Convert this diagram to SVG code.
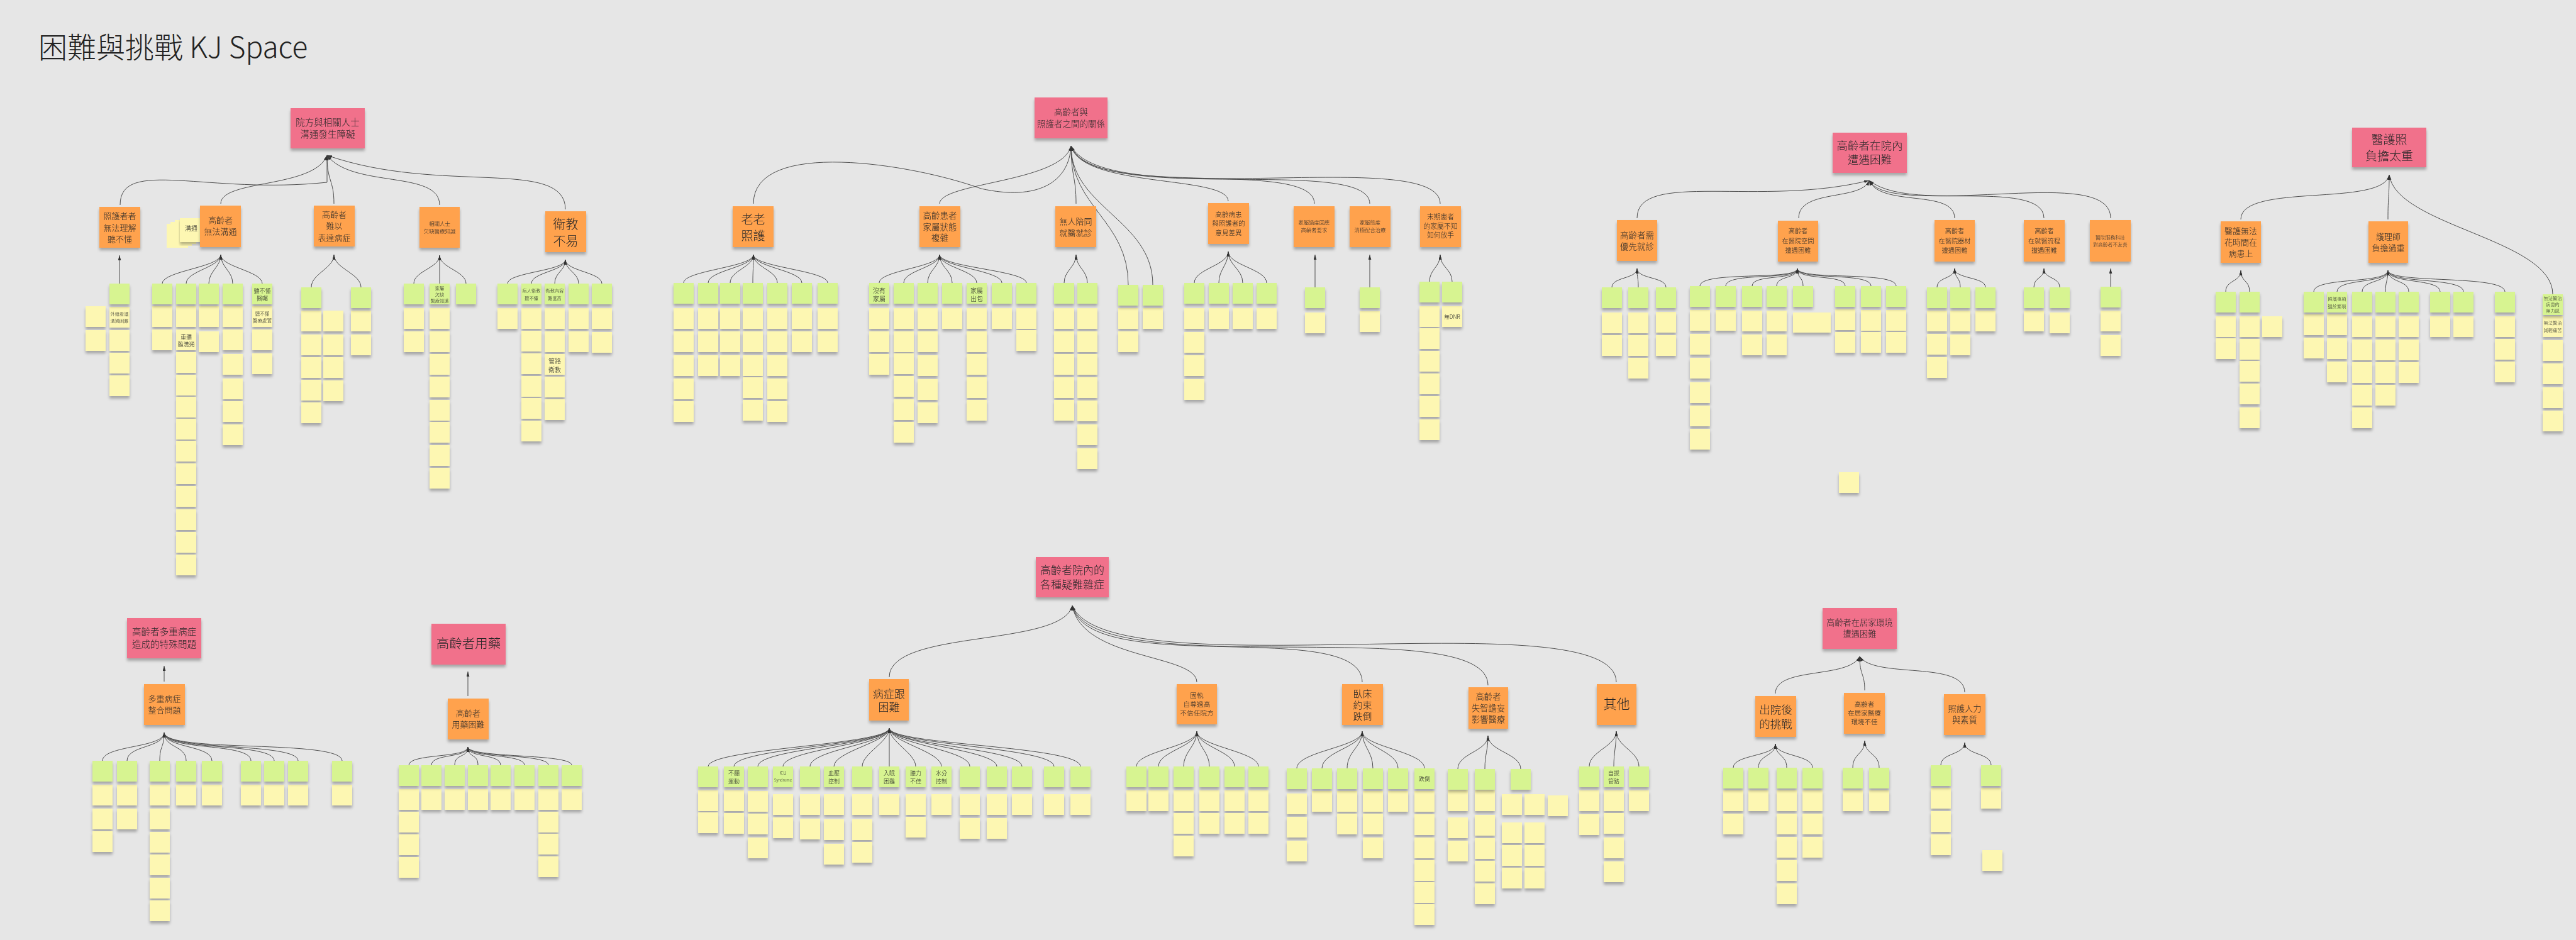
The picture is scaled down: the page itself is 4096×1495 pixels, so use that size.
<svg xmlns="http://www.w3.org/2000/svg" xmlns:xlink="http://www.w3.org/1999/xlink" width="4096" height="1495" viewBox="0 0 4096 1495">
<defs>
<style>
.bg{fill:#e6e6e6}
.pk{fill:#f1718b}
.or{fill:#ffa24e}
.gr{fill:#d7f491}
.yl{fill:#fdf7b2}
text{font-family:"Noto Sans CJK TC","Noto Sans CJK SC",sans-serif;font-weight:300;fill:#272727;text-anchor:middle;dominant-baseline:central}
.title{text-anchor:start;dominant-baseline:alphabetic;font-size:46px;fill:#222}
#connectors path{fill:none;stroke:#4d4d4d;stroke-width:1;marker-end:url(#ah)}
.sh{filter:url(#sh)}
</style>
<filter id="sh" x="-5%" y="-5%" width="110%" height="120%"><feDropShadow dx="0" dy="4" stdDeviation="2.2" flood-color="#000" flood-opacity="0.28"/></filter>
<marker id="ah" viewBox="0 0 10 6" refX="10" refY="3" markerWidth="8" markerHeight="5" orient="auto"><path d="M0,0L10,3L0,6z" fill="#333"/></marker>
<rect id="n" width="32" height="33"/>
</defs>
<rect class="bg" width="4096" height="1495"/>
<text class="title" x="61" y="92">困難與挑戰 KJ Space</text>

<g id="connectors">
<path d="M191,326C191,250 330,310 520,290C520,270 520,260 520,247"/>
<path d="M351,324C351,285 500,300 520,247"/>
<path d="M531,324C531,285 520,290 520,247"/>
<path d="M699,326C699,270 560,300 520,247"/>
<path d="M899,333C899,250 700,310 520,247"/>
<path d="M190,451V406"/>
<path d="M258,451C258,431 351,425 351,405"/>
<path d="M296,451C296,431 351,425 351,405"/>
<path d="M332,451C332,431 351,425 351,405"/>
<path d="M370,451C370,431 351,425 351,405"/>
<path d="M417,451C417,431 351,425 351,405"/>
<path d="M495,457C495,435 531,427 531,405"/>
<path d="M574,457C574,435 531,427 531,405"/>
<path d="M658,451C658,431 699,426 699,406"/>
<path d="M699,451V406"/>
<path d="M741,451C741,431 699,426 699,406"/>
<path d="M807,451C807,433 899,431 899,413"/>
<path d="M845,451C845,433 899,431 899,413"/>
<path d="M882,451C882,433 899,431 899,413"/>
<path d="M920,451C920,433 899,431 899,413"/>
<path d="M957,451C957,433 899,431 899,413"/>

<path d="M1198,324C1198,220 1450,260 1560,300C1650,320 1700,290 1703,232"/>
<path d="M1494,324C1494,290 1690,290 1703,232"/>
<path d="M1711,324C1711,280 1703,280 1703,232"/>
<path d="M1953,320C1953,278 1720,300 1703,232"/>
<path d="M2090,324C2090,250 1730,320 1703,232"/>
<path d="M2178,324C2178,245 1740,330 1703,232"/>
<path d="M2290,324C2290,230 1760,340 1703,232"/>
<path d="M1794,453C1794,350 1703,330 1703,232"/>
<path d="M1833,453C1833,350 1703,330 1703,232"/>
<path d="M1087,450C1087,430 1198,425 1198,405"/>
<path d="M1126,450C1126,430 1198,425 1198,405"/>
<path d="M1161,450C1161,430 1198,425 1198,405"/>
<path d="M1197,450C1197,430 1198,425 1198,405"/>
<path d="M1236,450C1236,430 1198,425 1198,405"/>
<path d="M1275,450C1275,430 1198,425 1198,405"/>
<path d="M1316,450C1316,430 1198,425 1198,405"/>
<path d="M1398,450C1398,430 1494,425 1494,405"/>
<path d="M1437,450C1437,430 1494,425 1494,405"/>
<path d="M1475,450C1475,430 1494,425 1494,405"/>
<path d="M1514,450C1514,430 1494,425 1494,405"/>
<path d="M1553,450C1553,430 1494,425 1494,405"/>
<path d="M1593,450C1593,430 1494,425 1494,405"/>
<path d="M1632,450C1632,430 1494,425 1494,405"/>
<path d="M1692,450C1692,430 1711,425 1711,405"/>
<path d="M1729,450C1729,430 1711,425 1711,405"/>
<path d="M1899,450C1899,428 1953,422 1953,400"/>
<path d="M1938,450C1938,428 1953,422 1953,400"/>
<path d="M1976,450C1976,428 1953,422 1953,400"/>
<path d="M2014,450C2014,428 1953,422 1953,400"/>
<path d="M2091,457V405"/>
<path d="M2178,457V405"/>
<path d="M2273,448C2273,428 2290,425 2290,405"/>
<path d="M2309,448C2309,428 2290,425 2290,405"/>

<path d="M2603,347C2603,270 2800,330 2972,287"/>
<path d="M2860,347C2860,300 2960,320 2972,287"/>
<path d="M3108,347C3108,300 2990,330 2972,287"/>
<path d="M3250,347C3250,280 3000,340 2972,287"/>
<path d="M3356,347C3356,260 3050,350 2972,287"/>
<path d="M2563,457C2563,440 2603,444 2603,427"/>
<path d="M2605,457C2605,440 2603,444 2603,427"/>
<path d="M2649,457C2649,440 2603,444 2603,427"/>
<path d="M2703,455C2703,430 2858,447 2858,427"/>
<path d="M2744,455C2744,432 2858,447 2858,427"/>
<path d="M2786,455C2786,435 2858,447 2858,427"/>
<path d="M2825,455C2825,438 2858,444 2858,427"/>
<path d="M2867,455C2867,440 2858,444 2858,427"/>
<path d="M2934,455C2934,435 2858,447 2858,427"/>
<path d="M2975,455C2975,432 2858,447 2858,427"/>
<path d="M3015,455C3015,430 2858,447 2858,427"/>
<path d="M3080,457C3080,440 3108,444 3108,427"/>
<path d="M3117,457C3117,440 3108,444 3108,427"/>
<path d="M3157,457C3157,440 3108,444 3108,427"/>
<path d="M3234,457C3234,440 3250,444 3250,427"/>
<path d="M3275,457C3275,440 3250,444 3250,427"/>
<path d="M3356,456V427"/>

<path d="M3563,349C3563,290 3790,330 3799,278"/>
<path d="M3797,349C3797,310 3799,315 3799,278"/>
<path d="M4059,468C4059,380 3810,360 3799,278"/>
<path d="M3539,464C3539,445 3563,449 3563,430"/>
<path d="M3577,464C3577,445 3563,449 3563,430"/>
<path d="M3679,464C3679,440 3797,452 3797,430"/>
<path d="M3716,464C3716,442 3797,452 3797,430"/>
<path d="M3756,464C3756,445 3797,450 3797,430"/>
<path d="M3793,464C3793,447 3797,447 3797,430"/>
<path d="M3830,464C3830,445 3797,450 3797,430"/>
<path d="M3880,464C3880,442 3797,452 3797,430"/>
<path d="M3917,464C3917,440 3797,452 3797,430"/>
<path d="M3983,464C3983,436 3797,452 3797,430"/>

<path d="M261,1084V1059"/>
<path d="M163,1210C163,1185 261,1190 261,1165"/>
<path d="M202,1210C202,1185 261,1190 261,1165"/>
<path d="M254,1210C254,1185 261,1190 261,1165"/>
<path d="M296,1210C296,1185 261,1190 261,1165"/>
<path d="M337,1210C337,1185 261,1190 261,1165"/>
<path d="M399,1210C399,1180 261,1195 261,1165"/>
<path d="M436,1210C436,1180 261,1195 261,1165"/>
<path d="M474,1210C474,1180 261,1195 261,1165"/>
<path d="M544,1210C544,1175 261,1198 261,1165"/>
<path d="M744,1107V1068"/>
<path d="M650,1217C650,1198 744,1206 744,1188"/>
<path d="M686,1217C686,1198 744,1206 744,1188"/>
<path d="M723,1217C723,1198 744,1206 744,1188"/>
<path d="M760,1217C760,1198 744,1206 744,1188"/>
<path d="M796,1217C796,1198 744,1206 744,1188"/>
<path d="M834,1217C834,1198 744,1206 744,1188"/>
<path d="M872,1217C872,1198 744,1206 744,1188"/>
<path d="M909,1217C909,1198 744,1206 744,1188"/>

<path d="M1414,1077C1414,1000 1690,1030 1705,963"/>
<path d="M1903,1085C1903,1040 1720,1050 1705,963"/>
<path d="M2166,1085C2166,980 1730,1080 1705,963"/>
<path d="M2366,1090C2366,970 1740,1090 1705,963"/>
<path d="M2570,1085C2570,950 1760,1100 1705,963"/>
<path d="M1126,1219C1126,1190 1414,1185 1414,1158"/>
<path d="M1167,1219C1167,1190 1414,1185 1414,1158"/>
<path d="M1205,1219C1205,1190 1414,1185 1414,1158"/>
<path d="M1245,1219C1245,1192 1414,1183 1414,1158"/>
<path d="M1288,1219C1288,1192 1414,1183 1414,1158"/>
<path d="M1326,1219C1326,1195 1414,1180 1414,1158"/>
<path d="M1371,1219C1371,1198 1414,1180 1414,1158"/>
<path d="M1414,1219V1158"/>
<path d="M1456,1219C1456,1198 1414,1180 1414,1158"/>
<path d="M1497,1219C1497,1195 1414,1180 1414,1158"/>
<path d="M1542,1219C1542,1192 1414,1183 1414,1158"/>
<path d="M1585,1219C1585,1192 1414,1183 1414,1158"/>
<path d="M1625,1219C1625,1190 1414,1185 1414,1158"/>
<path d="M1676,1219C1676,1188 1414,1185 1414,1158"/>
<path d="M1718,1219C1718,1186 1414,1185 1414,1158"/>
<path d="M1807,1219C1807,1195 1903,1187 1903,1163"/>
<path d="M1842,1219C1842,1195 1903,1187 1903,1163"/>
<path d="M1882,1219C1882,1195 1903,1187 1903,1163"/>
<path d="M1923,1219C1923,1195 1903,1187 1903,1163"/>
<path d="M1963,1219C1963,1195 1903,1187 1903,1163"/>
<path d="M2001,1219C2001,1195 1903,1187 1903,1163"/>
<path d="M2062,1222C2062,1195 2166,1188 2166,1163"/>
<path d="M2102,1222C2102,1195 2166,1188 2166,1163"/>
<path d="M2142,1222C2142,1195 2166,1188 2166,1163"/>
<path d="M2183,1222C2183,1195 2166,1188 2166,1163"/>
<path d="M2223,1222C2223,1195 2166,1188 2166,1163"/>
<path d="M2265,1222C2265,1195 2166,1188 2166,1163"/>
<path d="M2318,1223C2318,1198 2366,1195 2366,1170"/>
<path d="M2361,1223C2361,1198 2366,1195 2366,1170"/>
<path d="M2418,1223C2418,1198 2366,1195 2366,1170"/>
<path d="M2527,1219C2527,1195 2570,1187 2570,1163"/>
<path d="M2566,1219C2566,1195 2570,1187 2570,1163"/>
<path d="M2606,1219C2606,1195 2570,1187 2570,1163"/>

<path d="M2823,1103C2823,1060 2940,1080 2957,1044"/>
<path d="M2965,1098C2965,1070 2957,1075 2957,1044"/>
<path d="M3124,1101C3124,1050 2980,1080 2957,1044"/>
<path d="M2756,1221C2756,1200 2823,1203 2823,1183"/>
<path d="M2796,1221C2796,1200 2823,1203 2823,1183"/>
<path d="M2841,1221C2841,1200 2823,1203 2823,1183"/>
<path d="M2882,1221C2882,1200 2823,1203 2823,1183"/>
<path d="M2946,1221C2946,1198 2965,1200 2965,1178"/>
<path d="M2988,1221C2988,1198 2965,1200 2965,1178"/>
<path d="M3086,1217C3086,1197 3124,1201 3124,1181"/>
<path d="M3166,1217C3166,1197 3124,1201 3124,1181"/>
</g>

<g id="yellow-notes" class="yl sh">
<use href="#n" x="136" y="487"/><use href="#n" x="136" y="525"/>
<use href="#n" x="174" y="488"/><use href="#n" x="174" y="525"/><use href="#n" x="174" y="561"/><use href="#n" x="174" y="597"/>
<use href="#n" x="242" y="487"/><use href="#n" x="242" y="524"/>
<use href="#n" x="280" y="487"/><use href="#n" x="280" y="524"/><use href="#n" x="280" y="560"/><use href="#n" x="280" y="596"/><use href="#n" x="280" y="631"/><use href="#n" x="280" y="666"/><use href="#n" x="280" y="701"/><use href="#n" x="280" y="737"/><use href="#n" x="280" y="773"/><use href="#n" x="280" y="810"/><use href="#n" x="280" y="846"/><use href="#n" x="280" y="882"/>
<use href="#n" x="316" y="487"/><use href="#n" x="316" y="527"/>
<use href="#n" x="354" y="487"/><use href="#n" x="354" y="524"/><use href="#n" x="354" y="563"/><use href="#n" x="354" y="602"/><use href="#n" x="354" y="638"/><use href="#n" x="354" y="675"/>
<use href="#n" x="401" y="487"/><use href="#n" x="401" y="524"/><use href="#n" x="401" y="562"/>
<use href="#n" x="479" y="494"/><use href="#n" x="479" y="532"/><use href="#n" x="479" y="568"/><use href="#n" x="479" y="604"/><use href="#n" x="479" y="640"/>
<use href="#n" x="514" y="494"/><use href="#n" x="514" y="532"/><use href="#n" x="514" y="568"/><use href="#n" x="514" y="605"/>
<use href="#n" x="558" y="494"/><use href="#n" x="558" y="532"/>
<use href="#n" x="642" y="490"/><use href="#n" x="642" y="527"/>
<use href="#n" x="683" y="490"/><use href="#n" x="683" y="527"/><use href="#n" x="683" y="563"/><use href="#n" x="683" y="599"/><use href="#n" x="683" y="636"/><use href="#n" x="683" y="671"/><use href="#n" x="683" y="708"/><use href="#n" x="683" y="744"/>
<use href="#n" x="791" y="490"/>
<use href="#n" x="829" y="490"/><use href="#n" x="829" y="526"/><use href="#n" x="829" y="562"/><use href="#n" x="829" y="598"/><use href="#n" x="829" y="633"/><use href="#n" x="829" y="669"/>
<use href="#n" x="866" y="490"/><use href="#n" x="866" y="527"/><use href="#n" x="866" y="563"/><use href="#n" x="866" y="599"/><use href="#n" x="866" y="635"/>
<use href="#n" x="904" y="490"/><use href="#n" x="904" y="527"/>
<use href="#n" x="941" y="490"/><use href="#n" x="941" y="528"/>

<use href="#n" x="1071" y="490"/><use href="#n" x="1071" y="527"/><use href="#n" x="1071" y="565"/><use href="#n" x="1071" y="602"/><use href="#n" x="1071" y="638"/>
<use href="#n" x="1110" y="490"/><use href="#n" x="1110" y="527"/><use href="#n" x="1110" y="565"/>
<use href="#n" x="1145" y="490"/><use href="#n" x="1145" y="527"/><use href="#n" x="1145" y="565"/>
<use href="#n" x="1181" y="490"/><use href="#n" x="1181" y="527"/><use href="#n" x="1181" y="565"/><use href="#n" x="1181" y="600"/><use href="#n" x="1181" y="636"/>
<use href="#n" x="1220" y="490"/><use href="#n" x="1220" y="527"/><use href="#n" x="1220" y="565"/><use href="#n" x="1220" y="602"/><use href="#n" x="1220" y="638"/>
<use href="#n" x="1259" y="490"/><use href="#n" x="1259" y="527"/>
<use href="#n" x="1300" y="490"/><use href="#n" x="1300" y="527"/>
<use href="#n" x="1382" y="490"/><use href="#n" x="1382" y="527"/><use href="#n" x="1382" y="563"/>
<use href="#n" x="1421" y="490"/><use href="#n" x="1421" y="527"/><use href="#n" x="1421" y="562"/><use href="#n" x="1421" y="598"/><use href="#n" x="1421" y="635"/><use href="#n" x="1421" y="671"/>
<use href="#n" x="1459" y="490"/><use href="#n" x="1459" y="527"/><use href="#n" x="1459" y="565"/><use href="#n" x="1459" y="603"/><use href="#n" x="1459" y="640"/>
<use href="#n" x="1498" y="490"/>
<use href="#n" x="1537" y="490"/><use href="#n" x="1537" y="527"/><use href="#n" x="1537" y="563"/><use href="#n" x="1537" y="600"/><use href="#n" x="1537" y="636"/>
<use href="#n" x="1577" y="490"/>
<use href="#n" x="1616" y="490"/><use href="#n" x="1616" y="525"/>
<use href="#n" x="1676" y="490"/><use href="#n" x="1676" y="527"/><use href="#n" x="1676" y="563"/><use href="#n" x="1676" y="600"/><use href="#n" x="1676" y="636"/>
<use href="#n" x="1713" y="490"/><use href="#n" x="1713" y="527"/><use href="#n" x="1713" y="563"/><use href="#n" x="1713" y="600"/><use href="#n" x="1713" y="637"/><use href="#n" x="1713" y="675"/><use href="#n" x="1713" y="713"/>
<use href="#n" x="1778" y="490"/><use href="#n" x="1778" y="527"/>
<use href="#n" x="1817" y="490"/>
<use href="#n" x="1883" y="490"/><use href="#n" x="1883" y="528"/><use href="#n" x="1883" y="565"/><use href="#n" x="1883" y="603"/>
<use href="#n" x="1922" y="490"/><use href="#n" x="1960" y="490"/><use href="#n" x="1998" y="490"/>
<use href="#n" x="2075" y="497"/><use href="#n" x="2162" y="495"/>
<use href="#n" x="2257" y="487"/><use href="#n" x="2257" y="522"/><use href="#n" x="2257" y="558"/><use href="#n" x="2257" y="594"/><use href="#n" x="2257" y="630"/><use href="#n" x="2257" y="667"/>
<use href="#n" x="2293" y="487"/>

<use href="#n" x="2547" y="497"/><use href="#n" x="2547" y="533"/>
<use href="#n" x="2589" y="497"/><use href="#n" x="2589" y="533"/><use href="#n" x="2589" y="569"/>
<use href="#n" x="2633" y="496"/><use href="#n" x="2633" y="533"/>
<use href="#n" x="2687" y="493"/><use href="#n" x="2687" y="531"/><use href="#n" x="2687" y="569"/><use href="#n" x="2687" y="608"/><use href="#n" x="2687" y="645"/><use href="#n" x="2687" y="682"/>
<use href="#n" x="2728" y="493"/>
<use href="#n" x="2770" y="494"/><use href="#n" x="2770" y="532"/>
<use href="#n" x="2809" y="494"/><use href="#n" x="2809" y="532"/>
<rect x="2851" y="497" width="60" height="32"/>
<use href="#n" x="2918" y="492"/><use href="#n" x="2918" y="528"/>
<use href="#n" x="2959" y="493"/><use href="#n" x="2959" y="528"/>
<use href="#n" x="2999" y="493"/><use href="#n" x="2999" y="528"/>
<use href="#n" x="3064" y="494"/><use href="#n" x="3064" y="531"/><use href="#n" x="3064" y="568"/>
<use href="#n" x="3101" y="494"/><use href="#n" x="3101" y="532"/>
<use href="#n" x="3141" y="494"/>
<use href="#n" x="3218" y="494"/><use href="#n" x="3259" y="497"/>
<use href="#n" x="3340" y="494"/><use href="#n" x="3340" y="533"/>
<use href="#n" x="2924" y="751"/>

<use href="#n" x="3523" y="503"/><use href="#n" x="3523" y="538"/>
<use href="#n" x="3561" y="503"/><use href="#n" x="3561" y="539"/><use href="#n" x="3561" y="574"/><use href="#n" x="3561" y="610"/><use href="#n" x="3561" y="648"/>
<use href="#n" x="3597" y="503"/>
<use href="#n" x="3663" y="500"/><use href="#n" x="3663" y="537"/>
<use href="#n" x="3700" y="500"/><use href="#n" x="3700" y="538"/><use href="#n" x="3700" y="575"/>
<use href="#n" x="3740" y="503"/><use href="#n" x="3740" y="540"/><use href="#n" x="3740" y="576"/><use href="#n" x="3740" y="612"/><use href="#n" x="3740" y="648"/>
<use href="#n" x="3777" y="503"/><use href="#n" x="3777" y="540"/><use href="#n" x="3777" y="576"/><use href="#n" x="3777" y="612"/>
<use href="#n" x="3814" y="503"/><use href="#n" x="3814" y="540"/><use href="#n" x="3814" y="576"/>
<use href="#n" x="3864" y="503"/><use href="#n" x="3901" y="503"/>
<use href="#n" x="3967" y="503"/><use href="#n" x="3967" y="539"/><use href="#n" x="3967" y="575"/>
<use href="#n" x="4043" y="503"/><use href="#n" x="4043" y="541"/><use href="#n" x="4043" y="578"/><use href="#n" x="4043" y="616"/><use href="#n" x="4043" y="653"/>

<use href="#n" x="147" y="1248"/><use href="#n" x="147" y="1286"/><use href="#n" x="147" y="1322"/>
<use href="#n" x="186" y="1248"/><use href="#n" x="186" y="1286"/>
<use href="#n" x="238" y="1248"/><use href="#n" x="238" y="1286"/><use href="#n" x="238" y="1323"/><use href="#n" x="238" y="1359"/><use href="#n" x="238" y="1396"/><use href="#n" x="238" y="1432"/>
<use href="#n" x="280" y="1248"/><use href="#n" x="321" y="1248"/><use href="#n" x="383" y="1248"/><use href="#n" x="420" y="1248"/><use href="#n" x="458" y="1248"/><use href="#n" x="528" y="1248"/>
<use href="#n" x="634" y="1255"/><use href="#n" x="634" y="1291"/><use href="#n" x="634" y="1327"/><use href="#n" x="634" y="1363"/>
<use href="#n" x="670" y="1255"/><use href="#n" x="707" y="1255"/><use href="#n" x="744" y="1255"/><use href="#n" x="780" y="1255"/><use href="#n" x="818" y="1255"/>
<use href="#n" x="856" y="1255"/><use href="#n" x="856" y="1291"/><use href="#n" x="856" y="1326"/><use href="#n" x="856" y="1362"/>
<use href="#n" x="893" y="1255"/>

<use href="#n" x="1110" y="1257"/><use href="#n" x="1110" y="1292"/>
<use href="#n" x="1151" y="1257"/><use href="#n" x="1151" y="1293"/>
<use href="#n" x="1189" y="1258"/><use href="#n" x="1189" y="1294"/><use href="#n" x="1189" y="1332"/>
<use href="#n" x="1229" y="1263"/><use href="#n" x="1229" y="1300"/>
<use href="#n" x="1272" y="1263"/><use href="#n" x="1272" y="1302"/>
<use href="#n" x="1310" y="1263"/><use href="#n" x="1310" y="1303"/><use href="#n" x="1310" y="1342"/>
<use href="#n" x="1355" y="1263"/><use href="#n" x="1355" y="1303"/><use href="#n" x="1355" y="1339"/>
<use href="#n" x="1398" y="1263"/>
<use href="#n" x="1440" y="1263"/><use href="#n" x="1440" y="1299"/>
<use href="#n" x="1481" y="1263"/>
<use href="#n" x="1526" y="1263"/><use href="#n" x="1526" y="1301"/>
<use href="#n" x="1569" y="1263"/><use href="#n" x="1569" y="1301"/>
<use href="#n" x="1609" y="1263"/><use href="#n" x="1660" y="1263"/><use href="#n" x="1702" y="1263"/>
<use href="#n" x="1791" y="1257"/><use href="#n" x="1826" y="1257"/>
<use href="#n" x="1866" y="1257"/><use href="#n" x="1866" y="1293"/><use href="#n" x="1866" y="1329"/>
<use href="#n" x="1907" y="1257"/><use href="#n" x="1907" y="1293"/>
<use href="#n" x="1947" y="1257"/><use href="#n" x="1947" y="1293"/>
<use href="#n" x="1985" y="1257"/><use href="#n" x="1985" y="1293"/>
<use href="#n" x="2046" y="1262"/><use href="#n" x="2046" y="1299"/><use href="#n" x="2046" y="1337"/>
<use href="#n" x="2086" y="1258"/>
<use href="#n" x="2126" y="1258"/><use href="#n" x="2126" y="1294"/>
<use href="#n" x="2167" y="1258"/><use href="#n" x="2167" y="1294"/><use href="#n" x="2167" y="1332"/>
<use href="#n" x="2207" y="1258"/>
<use href="#n" x="2249" y="1258"/><use href="#n" x="2249" y="1295"/><use href="#n" x="2249" y="1332"/><use href="#n" x="2249" y="1368"/><use href="#n" x="2249" y="1403"/><use href="#n" x="2249" y="1438"/>
<use href="#n" x="2302" y="1257"/><use href="#n" x="2302" y="1300"/><use href="#n" x="2302" y="1337"/>
<use href="#n" x="2345" y="1257"/><use href="#n" x="2345" y="1296"/><use href="#n" x="2345" y="1333"/><use href="#n" x="2345" y="1369"/><use href="#n" x="2345" y="1405"/>
<use href="#n" x="2388" y="1263"/><use href="#n" x="2388" y="1308"/><use href="#n" x="2388" y="1344"/><use href="#n" x="2388" y="1380"/>
<use href="#n" x="2424" y="1263"/><use href="#n" x="2424" y="1308"/><use href="#n" x="2424" y="1344"/><use href="#n" x="2424" y="1380"/>
<use href="#n" x="2461" y="1265"/>
<use href="#n" x="2511" y="1257"/><use href="#n" x="2511" y="1295"/>
<use href="#n" x="2550" y="1257"/><use href="#n" x="2550" y="1293"/><use href="#n" x="2550" y="1332"/><use href="#n" x="2550" y="1370"/>
<use href="#n" x="2590" y="1257"/>

<use href="#n" x="2740" y="1257"/><use href="#n" x="2740" y="1294"/>
<use href="#n" x="2780" y="1257"/>
<use href="#n" x="2825" y="1257"/><use href="#n" x="2825" y="1294"/><use href="#n" x="2825" y="1331"/><use href="#n" x="2825" y="1368"/><use href="#n" x="2825" y="1405"/>
<use href="#n" x="2866" y="1257"/><use href="#n" x="2866" y="1294"/><use href="#n" x="2866" y="1331"/>
<use href="#n" x="2930" y="1257"/><use href="#n" x="2972" y="1257"/>
<use href="#n" x="3070" y="1253"/><use href="#n" x="3070" y="1290"/><use href="#n" x="3070" y="1327"/>
<use href="#n" x="3150" y="1253"/>
<use href="#n" x="3152" y="1352"/>
</g>

<g id="green-notes" class="gr sh">
<use id="g1" href="#n" x="174" y="451"/>
<use id="g2" href="#n" x="242" y="451"/><use id="g3" href="#n" x="280" y="451"/><use id="g4" href="#n" x="316" y="451"/><use id="g5" href="#n" x="354" y="451"/><use id="g6" href="#n" x="401" y="451"/>
<use id="g7" href="#n" x="479" y="457"/><use id="g8" href="#n" x="558" y="457"/>
<use id="g9" href="#n" x="642" y="451"/><use id="g10" href="#n" x="683" y="451"/><use id="g11" href="#n" x="725" y="451"/>
<use id="g12" href="#n" x="791" y="451"/><use id="g13" href="#n" x="829" y="451"/><use id="g14" href="#n" x="866" y="451"/><use id="g15" href="#n" x="904" y="451"/><use id="g16" href="#n" x="941" y="451"/>
<use id="g17" href="#n" x="1071" y="450"/><use id="g18" href="#n" x="1110" y="450"/><use id="g19" href="#n" x="1145" y="450"/><use id="g20" href="#n" x="1181" y="450"/><use id="g21" href="#n" x="1220" y="450"/><use id="g22" href="#n" x="1259" y="450"/><use id="g23" href="#n" x="1300" y="450"/>
<use id="g24" href="#n" x="1382" y="450"/><use id="g25" href="#n" x="1421" y="450"/><use id="g26" href="#n" x="1459" y="450"/><use id="g27" href="#n" x="1498" y="450"/><use id="g28" href="#n" x="1537" y="450"/><use id="g29" href="#n" x="1577" y="450"/><use id="g30" href="#n" x="1616" y="450"/>
<use id="g31" href="#n" x="1676" y="450"/><use id="g32" href="#n" x="1713" y="450"/>
<use id="g33" href="#n" x="1778" y="453"/><use id="g34" href="#n" x="1817" y="453"/>
<use id="g35" href="#n" x="1883" y="450"/><use id="g36" href="#n" x="1922" y="450"/><use id="g37" href="#n" x="1960" y="450"/><use id="g38" href="#n" x="1998" y="450"/>
<use id="g39" href="#n" x="2075" y="457"/><use id="g40" href="#n" x="2162" y="457"/>
<use id="g41" href="#n" x="2257" y="448"/><use id="g42" href="#n" x="2293" y="448"/>
<use id="g43" href="#n" x="2547" y="457"/><use id="g44" href="#n" x="2589" y="457"/><use id="g45" href="#n" x="2633" y="457"/>
<use id="g46" href="#n" x="2687" y="455"/><use id="g47" href="#n" x="2728" y="455"/><use id="g48" href="#n" x="2770" y="455"/><use id="g49" href="#n" x="2809" y="455"/><use id="g50" href="#n" x="2851" y="455"/><use id="g51" href="#n" x="2918" y="455"/><use id="g52" href="#n" x="2959" y="455"/><use id="g53" href="#n" x="2999" y="455"/>
<use id="g54" href="#n" x="3064" y="457"/><use id="g55" href="#n" x="3101" y="457"/><use id="g56" href="#n" x="3141" y="457"/>
<use id="g57" href="#n" x="3218" y="457"/><use id="g58" href="#n" x="3259" y="457"/>
<use id="g59" href="#n" x="3340" y="456"/>
<use id="g60" href="#n" x="3523" y="464"/><use id="g61" href="#n" x="3561" y="464"/>
<use id="g62" href="#n" x="3663" y="464"/><use id="g63" href="#n" x="3700" y="464"/><use id="g64" href="#n" x="3740" y="464"/><use id="g65" href="#n" x="3777" y="464"/><use id="g66" href="#n" x="3814" y="464"/><use id="g67" href="#n" x="3864" y="464"/><use id="g68" href="#n" x="3901" y="464"/><use id="g69" href="#n" x="3967" y="464"/>
<use id="g70" href="#n" x="4043" y="468"/>
<use id="g71" href="#n" x="147" y="1210"/><use id="g72" href="#n" x="186" y="1210"/><use id="g73" href="#n" x="238" y="1210"/><use id="g74" href="#n" x="280" y="1210"/><use id="g75" href="#n" x="321" y="1210"/><use id="g76" href="#n" x="383" y="1210"/><use id="g77" href="#n" x="420" y="1210"/><use id="g78" href="#n" x="458" y="1210"/><use id="g79" href="#n" x="528" y="1210"/>
<use id="g80" href="#n" x="634" y="1217"/><use id="g81" href="#n" x="670" y="1217"/><use id="g82" href="#n" x="707" y="1217"/><use id="g83" href="#n" x="744" y="1217"/><use id="g84" href="#n" x="780" y="1217"/><use id="g85" href="#n" x="818" y="1217"/><use id="g86" href="#n" x="856" y="1217"/><use id="g87" href="#n" x="893" y="1217"/>
<use id="g88" href="#n" x="1110" y="1219"/><use id="g89" href="#n" x="1151" y="1219"/><use id="g90" href="#n" x="1189" y="1219"/><use id="g91" href="#n" x="1229" y="1219"/><use id="g92" href="#n" x="1272" y="1219"/><use id="g93" href="#n" x="1310" y="1219"/><use id="g94" href="#n" x="1355" y="1219"/><use id="g95" href="#n" x="1398" y="1219"/><use id="g96" href="#n" x="1440" y="1219"/><use id="g97" href="#n" x="1481" y="1219"/><use id="g98" href="#n" x="1526" y="1219"/><use id="g99" href="#n" x="1569" y="1219"/><use id="g100" href="#n" x="1609" y="1219"/><use id="g101" href="#n" x="1660" y="1219"/><use id="g102" href="#n" x="1702" y="1219"/>
<use id="g103" href="#n" x="1791" y="1219"/><use id="g104" href="#n" x="1826" y="1219"/><use id="g105" href="#n" x="1866" y="1219"/><use id="g106" href="#n" x="1907" y="1219"/><use id="g107" href="#n" x="1947" y="1219"/><use id="g108" href="#n" x="1985" y="1219"/>
<use id="g109" href="#n" x="2046" y="1222"/><use id="g110" href="#n" x="2086" y="1222"/><use id="g111" href="#n" x="2126" y="1222"/><use id="g112" href="#n" x="2167" y="1222"/><use id="g113" href="#n" x="2207" y="1222"/><use id="g114" href="#n" x="2249" y="1222"/>
<use id="g115" href="#n" x="2302" y="1223"/><use id="g116" href="#n" x="2345" y="1223"/><use id="g117" href="#n" x="2402" y="1223"/>
<use id="g118" href="#n" x="2511" y="1219"/><use id="g119" href="#n" x="2550" y="1219"/><use id="g120" href="#n" x="2590" y="1219"/>
<use id="g121" href="#n" x="2740" y="1221"/><use id="g122" href="#n" x="2780" y="1221"/><use id="g123" href="#n" x="2825" y="1221"/><use id="g124" href="#n" x="2866" y="1221"/>
<use id="g125" href="#n" x="2930" y="1221"/><use id="g126" href="#n" x="2972" y="1221"/>
<use id="g127" href="#n" x="3070" y="1217"/><use id="g128" href="#n" x="3150" y="1217"/>
</g>

<g id="note-texts">
<text x="417" y="462" font-size="9">聽不懂</text><text x="417" y="474" font-size="9">醫囑</text>
<text x="417" y="498" font-size="7.5">聽不懂</text><text x="417" y="509" font-size="7.5">醫療處置</text>
<text x="296" y="535" font-size="9">重聽</text><text x="296" y="547" font-size="9">難溝通</text>
<text x="190" y="499" font-size="7.2">外籍看護</text><text x="190" y="510" font-size="7.2">溝通困難</text>
<text x="882" y="573" font-size="10">管路</text><text x="882" y="587" font-size="10">衛教</text>
<text x="845" y="462" font-size="7.2">病人衛教</text><text x="845" y="474" font-size="7.2">聽不懂</text>
<text x="882" y="462" font-size="7.2">衛教內容</text><text x="882" y="474" font-size="7.2">難度高</text>
<text x="699" y="458" font-size="7.2">家屬</text><text x="699" y="468" font-size="7.2">欠缺</text><text x="699" y="478" font-size="7.2">醫療知識</text>
<text x="1398" y="461" font-size="10">沒有</text><text x="1398" y="474" font-size="10">家屬</text>
<text x="1553" y="461" font-size="10">家屬</text><text x="1553" y="474" font-size="10">出包</text>
<text x="2309" y="503" font-size="8.5">無DNR</text>
<text x="3716" y="475" font-size="7.2">照護事項</text><text x="3716" y="487" font-size="7.2">過於繁瑣</text>
<text x="4059" y="474" font-size="7.2">無法醫治</text><text x="4059" y="484" font-size="7.2">病患的</text><text x="4059" y="494" font-size="7.2">無力感</text>
<text x="4059" y="513" font-size="7.2">無法醫治</text><text x="4059" y="525" font-size="7.2">減輕痛苦</text>
<text x="1167" y="1229" font-size="9">不願</text><text x="1167" y="1242" font-size="9">運動</text>
<text x="1245" y="1229" font-size="7">ICU</text><text x="1245" y="1240" font-size="6">Syndrome</text>
<text x="1326" y="1229" font-size="9">血壓</text><text x="1326" y="1242" font-size="9">控制</text>
<text x="1414" y="1229" font-size="9">入眠</text><text x="1414" y="1242" font-size="9">困難</text>
<text x="1456" y="1229" font-size="9">聽力</text><text x="1456" y="1242" font-size="9">不佳</text>
<text x="1497" y="1229" font-size="9">水分</text><text x="1497" y="1242" font-size="9">控制</text>
<text x="2265" y="1238" font-size="9">跌倒</text>
<text x="2566" y="1229" font-size="9">自拔</text><text x="2566" y="1242" font-size="9">管路</text>
</g>

<g id="stack-communication" class="yl">
<rect x="265" y="356" width="34" height="38"/>
<rect x="271" y="353" width="34" height="38"/>
<rect x="278" y="350" width="34" height="38"/>
<rect x="286" y="347" width="34" height="38" class="sh"/>
<text x="304" y="362" font-size="10">溝通</text>
</g>

<g id="p1" class="sh"><rect class="pk" x="462" y="172" width="118" height="64"/><text x="521" y="193" font-size="14.5">院方與相關人士</text><text x="521" y="212" font-size="14.5">溝通發生障礙</text></g>
<g id="o1" class="sh"><rect class="or" x="158" y="329" width="65" height="65"/><text x="190.5" y="342" font-size="13">照護者者</text><text x="190.5" y="361" font-size="13">無法理解</text><text x="190.5" y="379" font-size="13">聽不懂</text></g>
<g id="o2" class="sh"><rect class="or" x="318" y="327" width="65" height="66"/><text x="350.5" y="349" font-size="13">高齡者</text><text x="350.5" y="367" font-size="13">無法溝通</text></g>
<g id="o3" class="sh"><rect class="or" x="499" y="327" width="65" height="65"/><text x="531.5" y="340" font-size="13">高齡者</text><text x="531.5" y="358" font-size="13">難以</text><text x="531.5" y="377" font-size="13">表達病症</text></g>
<g id="o4" class="sh"><rect class="or" x="667" y="329" width="64" height="65"/><text x="699" y="355" font-size="8.5">相關人士</text><text x="699" y="367" font-size="8.5">欠缺醫療知識</text></g>
<g id="o5" class="sh"><rect class="or" x="867" y="336" width="65" height="65"/><text x="899.5" y="355" font-size="20">衛教</text><text x="899.5" y="382" font-size="20">不易</text></g>

<g id="p2" class="sh"><rect class="pk" x="1645" y="155" width="116" height="65"/><text x="1703" y="177" font-size="13.5">高齡者與</text><text x="1703" y="196" font-size="13.5">照護者之間的關係</text></g>
<g id="o6" class="sh"><rect class="or" x="1165" y="328" width="65" height="65"/><text x="1197.5" y="347" font-size="19">老老</text><text x="1197.5" y="373" font-size="19">照護</text></g>
<g id="o7" class="sh"><rect class="or" x="1462" y="328" width="65" height="65"/><text x="1494.5" y="342" font-size="13.5">高齡患者</text><text x="1494.5" y="360" font-size="13.5">家屬狀態</text><text x="1494.5" y="377" font-size="13.5">複雜</text></g>
<g id="o8" class="sh"><rect class="or" x="1678" y="328" width="65" height="65"/><text x="1710.5" y="351" font-size="13">無人陪同</text><text x="1710.5" y="369" font-size="13">就醫就診</text></g>
<g id="o9" class="sh"><rect class="or" x="1921" y="323" width="65" height="65"/><text x="1953.5" y="340" font-size="10.5">高齡病患</text><text x="1953.5" y="354" font-size="10.5">與照護者的</text><text x="1953.5" y="369" font-size="10.5">意見差異</text></g>
<g id="o10" class="sh"><rect class="or" x="2057" y="328" width="65" height="65"/><text x="2089.5" y="353" font-size="8.3">家屬過度回應</text><text x="2089.5" y="365" font-size="8.3">高齡者要求</text></g>
<g id="o11" class="sh"><rect class="or" x="2146" y="328" width="65" height="65"/><text x="2178.5" y="353" font-size="8.3">家屬態度</text><text x="2178.5" y="365" font-size="8.3">消極配合治療</text></g>
<g id="o12" class="sh"><rect class="or" x="2258" y="328" width="65" height="65"/><text x="2290.5" y="344" font-size="10.8">末期患者</text><text x="2290.5" y="359" font-size="10.8">的家屬不知</text><text x="2290.5" y="373" font-size="10.8">如何放手</text></g>

<g id="p3" class="sh"><rect class="pk" x="2914" y="211" width="118" height="64"/><text x="2973" y="230" font-size="17.5">高齡者在院內</text><text x="2973" y="252" font-size="17.5">遭遇困難</text></g>
<g id="o13" class="sh"><rect class="or" x="2571" y="350" width="64" height="65"/><text x="2603" y="373" font-size="13.5">高齡者需</text><text x="2603" y="391" font-size="13.5">優先就診</text></g>
<g id="o14" class="sh"><rect class="or" x="2827" y="351" width="64" height="65"/><text x="2859" y="366" font-size="10.2">高齡者</text><text x="2859" y="382" font-size="10.2">在醫院空間</text><text x="2859" y="397" font-size="10.2">遭遇困難</text></g>
<g id="o15" class="sh"><rect class="or" x="3076" y="350" width="64" height="66"/><text x="3108" y="366" font-size="10.2">高齡者</text><text x="3108" y="382" font-size="10.2">在醫院器材</text><text x="3108" y="397" font-size="10.2">遭遇困難</text></g>
<g id="o16" class="sh"><rect class="or" x="3218" y="350" width="65" height="66"/><text x="3250.5" y="366" font-size="10.2">高齡者</text><text x="3250.5" y="382" font-size="10.2">在就醫流程</text><text x="3250.5" y="397" font-size="10.2">遭遇困難</text></g>
<g id="o17" class="sh"><rect class="or" x="3323" y="350" width="65" height="66"/><text x="3355.5" y="377" font-size="7.8">醫院服務科技</text><text x="3355.5" y="388" font-size="7.8">對高齡者不友善</text></g>

<g id="p4" class="sh"><rect class="pk" x="3740" y="203" width="118" height="63"/><text x="3799" y="220" font-size="19">醫護照</text><text x="3799" y="246" font-size="19">負擔太重</text></g>
<g id="o18" class="sh"><rect class="or" x="3531" y="352" width="64" height="66"/><text x="3563" y="366" font-size="13">醫護無法</text><text x="3563" y="384" font-size="13">花時間在</text><text x="3563" y="402" font-size="13">病患上</text></g>
<g id="o19" class="sh"><rect class="or" x="3766" y="352" width="63" height="66"/><text x="3797.5" y="375" font-size="13">護理師</text><text x="3797.5" y="393" font-size="13">負擔過重</text></g>

<g id="p5" class="sh"><rect class="pk" x="202" y="983" width="118" height="64"/><text x="261" y="1003" font-size="14.6">高齡者多重病症</text><text x="261" y="1023" font-size="14.6">造成的特殊問題</text></g>
<g id="o20" class="sh"><rect class="or" x="229" y="1088" width="65" height="65"/><text x="261.5" y="1110" font-size="13">多重病症</text><text x="261.5" y="1128" font-size="13">整合問題</text></g>
<g id="p6" class="sh"><rect class="pk" x="686" y="992" width="118" height="65"/><text x="745" y="1022" font-size="20.5">高齡者用藥</text></g>
<g id="o21" class="sh"><rect class="or" x="712" y="1111" width="65" height="65"/><text x="744.5" y="1133" font-size="13">高齡者</text><text x="744.5" y="1151" font-size="13">用藥困難</text></g>

<g id="p7" class="sh"><rect class="pk" x="1647" y="886" width="116" height="64"/><text x="1705" y="905" font-size="17">高齡者院內的</text><text x="1705" y="928" font-size="17">各種疑難雜症</text></g>
<g id="o22" class="sh"><rect class="or" x="1382" y="1080" width="63" height="66"/><text x="1413.5" y="1102" font-size="17">病症跟</text><text x="1413.5" y="1123" font-size="17">困難</text></g>
<g id="o23" class="sh"><rect class="or" x="1871" y="1088" width="64" height="64"/><text x="1903" y="1105" font-size="10.7">固執</text><text x="1903" y="1119" font-size="10.7">自尊過高</text><text x="1903" y="1133" font-size="10.7">不信任院方</text></g>
<g id="o24" class="sh"><rect class="or" x="2134" y="1088" width="65" height="65"/><text x="2166.5" y="1102" font-size="15">臥床</text><text x="2166.5" y="1120" font-size="15">約束</text><text x="2166.5" y="1138" font-size="15">跌倒</text></g>
<g id="o25" class="sh"><rect class="or" x="2335" y="1093" width="63" height="66"/><text x="2366.5" y="1107" font-size="13.3">高齡者</text><text x="2366.5" y="1125" font-size="13.3">失智譫妄</text><text x="2366.5" y="1143" font-size="13.3">影響醫療</text></g>
<g id="o26" class="sh"><rect class="or" x="2539" y="1088" width="63" height="65"/><text x="2570.5" y="1118" font-size="21">其他</text></g>

<g id="p8" class="sh"><rect class="pk" x="2898" y="967" width="118" height="65"/><text x="2957" y="989" font-size="13.2">高齡者在居家環境</text><text x="2957" y="1007" font-size="13.2">遭遇困難</text></g>
<g id="o27" class="sh"><rect class="or" x="2791" y="1107" width="65" height="65"/><text x="2823.5" y="1127" font-size="17.5">出院後</text><text x="2823.5" y="1150" font-size="17.5">的挑戰</text></g>
<g id="o28" class="sh"><rect class="or" x="2932" y="1102" width="65" height="65"/><text x="2964.5" y="1119" font-size="10.5">高齡者</text><text x="2964.5" y="1133" font-size="10.5">在居家醫療</text><text x="2964.5" y="1147" font-size="10.5">環境不佳</text></g>
<g id="o29" class="sh"><rect class="or" x="3091" y="1104" width="66" height="65"/><text x="3124" y="1126" font-size="13.3">照護人力</text><text x="3124" y="1144" font-size="13.3">與素質</text></g>
</svg>
